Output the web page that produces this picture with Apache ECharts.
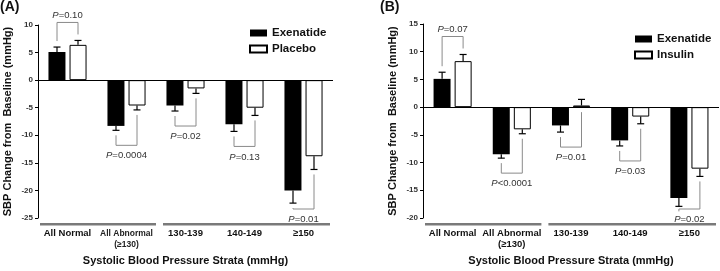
<!DOCTYPE html>
<html>
<head>
<meta charset="utf-8">
<script src="https://cdn.jsdelivr.net/npm/echarts@6/dist/echarts.min.js"></script>
<style>
  html, body { margin: 0; padding: 0; background: #fff; }
  #chart { width: 720px; height: 271px; }
</style>
</head>
<body>
<div id="chart"></div>
<script>
// categories shared by both panels
const categories = ['All Normal', 'All Abnormal\n(≥130)', '130-139', '140-149', '≥150'];
const strataGroups = [[0, 1], [2, 4]];

// panel A: exenatide vs placebo (mean change, SE)
const exeA = [5.1, -8.3, -4.6, -8.0, -20.0];
const exeASe = [0.9, 0.8, 1.0, 1.3, 2.3];
const placebo = [6.4, -4.6, -1.5, -5.0, -13.8];
const placeboSe = [0.8, 0.8, 0.9, 1.4, 2.4];
const pA = ['P=0.10', 'P=0.0004', 'P=0.02', 'P=0.13', 'P=0.01'];

// panel B: exenatide vs insulin
const exeB = [5.1, -8.5, -3.3, -6.0, -16.4];
const exeBSe = [1.2, 0.7, 1.2, 1.0, 1.5];
const insulin = [8.3, -4.0, 0.3, -1.7, -11.1];
const insulinSe = [1.2, 0.8, 1.1, 1.3, 1.4];
const pB = ['P=0.07', 'P<0.0001', 'P=0.01', 'P=0.03', 'P=0.02'];

const FONT = '"Liberation Sans", Arial, sans-serif';
const HALF = 10.5; // distance from category centre to bar centre

const chart = echarts.init(document.getElementById('chart'));

function errSeries(vals, ses, side, xi) {
  return {
    type: 'custom', xAxisIndex: xi, yAxisIndex: xi, clip: false, silent: true, z: 5,
    data: vals.map((v, i) => [i, v, ses[i]]),
    renderItem(params, api) {
      const i = api.value(0), v = api.value(1), se = api.value(2);
      const end = v >= 0 ? v + se : v - se;
      const p0 = api.coord([i, v]), p1 = api.coord([i, end]);
      const x = p0[0] + side * HALF;
      const st = { stroke: '#000', lineWidth: 1.2 };
      return {
        type: 'group', children: [
          { type: 'line', shape: { x1: x, y1: p0[1], x2: x, y2: p1[1] }, style: st },
          { type: 'line', shape: { x1: x - 3.5, y1: p1[1], x2: x + 3.5, y2: p1[1] }, style: st }
        ]
      };
    }
  };
}

function bracketSeries(a, aSe, b, bSe, labels, yMin, xi) {
  return {
    type: 'custom', xAxisIndex: xi, yAxisIndex: xi, clip: false, silent: true, z: 4,
    data: a.map((v, i) => [i, v]),
    renderItem(params, api) {
      const i = params.dataIndex;
      const c = api.coord([i, 0]);
      const xl = c[0] - HALF, xr = c[0] + HALF;
      const bottomPx = api.coord([i, yMin])[1];
      const tip = (v, se) => api.coord([i, v >= 0 ? v + se : v - se])[1];
      let yl, yr, lvl, ty;
      if (a[i] > 0 && b[i] > 0) {
        const tl = tip(a[i], aSe[i]), tr = tip(b[i], bSe[i]);
        lvl = Math.min(tl, tr) - 18;
        yl = tl - 6; yr = tr - 6; ty = lvl - 7;
      } else {
        const low = (v, se) => Math.max(c[1], api.coord([i, v])[1], tip(v, se));
        const ll = low(a[i], aSe[i]), lr = low(b[i], bSe[i]);
        lvl = Math.min(Math.max(ll, lr) + 15, bottomPx - 9);
        yl = ll + 5; yr = lr + 5; ty = lvl + 10.5;
      }
      return {
        type: 'group', children: [
          { type: 'polyline', shape: { points: [[xl, yl], [xl, lvl], [xr, lvl], [xr, yr]] },
            style: { stroke: '#8a8a8a', lineWidth: 1, fill: null } },
          { type: 'text', x: c[0], y: ty,
            style: {
              text: '{i|P}' + labels[i].slice(1),
              rich: { i: { fontStyle: 'italic', fontSize: 9.5, fontFamily: FONT, fill: '#333' } },
              fontSize: 9.5, fontFamily: FONT, fill: '#333', align: 'center', verticalAlign: 'middle'
            } }
        ]
      };
    }
  };
}

function groupLineSeries(yMin, xi) {
  return {
    type: 'custom', xAxisIndex: xi, yAxisIndex: xi, clip: false, silent: true,
    data: strataGroups.map(g => [g[0], yMin]),
    renderItem(params, api) {
      const g = strataGroups[params.dataIndex];
      const w = api.size([1, 0])[0];
      const p0 = api.coord([g[0], yMin]), p1 = api.coord([g[1], yMin]);
      const inset = params.dataIndex === 0 ? [2, 0] : [7, 3];
      const x1 = p0[0] - w / 2 + inset[0], x2 = p1[0] + w / 2 - inset[1];
      return { type: 'rect', shape: { x: x1, y: p0[1] + 5, width: x2 - x1, height: 2.5 }, style: { fill: '#7a7a7a' } };
    }
  };
}

function barSeries(name, vals, fill, xi) {
  return {
    name: name, type: 'bar', xAxisIndex: xi, yAxisIndex: xi, data: vals,
    barWidth: 17, barGap: '24%',
    itemStyle: { color: fill, borderColor: '#000', borderWidth: fill === '#fff' ? 1 : 0 },
    markLine: fill === '#000' ? {
      silent: true, symbol: 'none', label: { show: false },
      lineStyle: { color: '#000', width: 1, type: 'solid' },
      data: [{ yAxis: 0 }]
    } : undefined
  };
}

function xAxisFor(gi, smallAbnormal) {
  return {
    gridIndex: gi, type: 'category', data: categories,
    axisLine: { show: false, onZero: false }, axisTick: { show: false },
    axisLabel: {
      interval: 0, margin: 10, fontFamily: FONT, fontSize: 9.5, fontWeight: 'bold', color: '#111',
      lineHeight: 11, verticalAlign: 'top',
      formatter: (v, i) => (smallAbnormal && i === 1) ? '{s|All Abnormal}\n{s|(≥130)}' : v,
      rich: { s: { fontSize: 8.5, fontWeight: 'bold', fontFamily: FONT, color: '#222', lineHeight: 11 } }
    },
    name: 'Systolic Blood Pressure Strata (mmHg)', nameLocation: 'middle', nameGap: 37,
    nameTextStyle: { fontFamily: FONT, fontSize: 11, fontWeight: 'bold', color: '#111' }
  };
}

function yAxisFor(gi, min, max) {
  return {
    gridIndex: gi, type: 'value', min: min, max: max, interval: 5,
    axisLine: { show: true, lineStyle: { color: '#000', width: 1 } },
    axisTick: { show: true, length: 3, lineStyle: { color: '#000' } },
    splitLine: { show: false },
    axisLabel: { margin: 5, fontFamily: FONT, fontSize: 8, fontWeight: 'bold', color: '#333' },
    name: 'SBP Change from  Baseline (mmHg)', nameLocation: 'middle', nameRotate: 90, nameGap: 25,
    nameTextStyle: { fontFamily: FONT, fontSize: 11, fontWeight: 'bold', color: '#111' }
  };
}

const legendBase = {
  orient: 'vertical', itemWidth: 17, itemHeight: 7, itemGap: 4, padding: 0, icon: 'rect',
  selectedMode: false,
  textStyle: { fontFamily: FONT, fontSize: 11.5, fontWeight: 'bold', color: '#111' }
};

chart.setOption({
  animation: false,
  backgroundColor: '#fff',
  title: [
    { text: '(A)', left: 0, top: 0, padding: 0, textStyle: { fontFamily: FONT, fontSize: 14, fontWeight: 'bold', color: '#111' } },
    { text: '(B)', left: 380, top: 0, padding: 0, textStyle: { fontFamily: FONT, fontSize: 14, fontWeight: 'bold', color: '#111' } }
  ],
  legend: [
    Object.assign({}, legendBase, { left: 249, top: 27, data: ['Exenatide', 'Placebo'] }),
    Object.assign({}, legendBase, { left: 634, top: 33, data: ['Exenatide', 'Insulin'] })
  ],
  grid: [
    { left: 38, top: 25, width: 295, height: 197 },
    { left: 423, top: 24, width: 296, height: 197 }
  ],
  xAxis: [xAxisFor(0, true), xAxisFor(1, false)],
  yAxis: [yAxisFor(0, -25, 10), yAxisFor(1, -20, 15)],
  series: [
    barSeries('Exenatide', exeA, '#000', 0),
    barSeries('Placebo', placebo, '#fff', 0),
    errSeries(exeA, exeASe, -1, 0),
    errSeries(placebo, placeboSe, 1, 0),
    bracketSeries(exeA, exeASe, placebo, placeboSe, pA, -25, 0),
    groupLineSeries(-25, 0),
    barSeries('Exenatide', exeB, '#000', 1),
    barSeries('Insulin', insulin, '#fff', 1),
    errSeries(exeB, exeBSe, -1, 1),
    errSeries(insulin, insulinSe, 1, 1),
    bracketSeries(exeB, exeBSe, insulin, insulinSe, pB, -20, 1),
    groupLineSeries(-20, 1)
  ]
});
</script>
</body>
</html>
